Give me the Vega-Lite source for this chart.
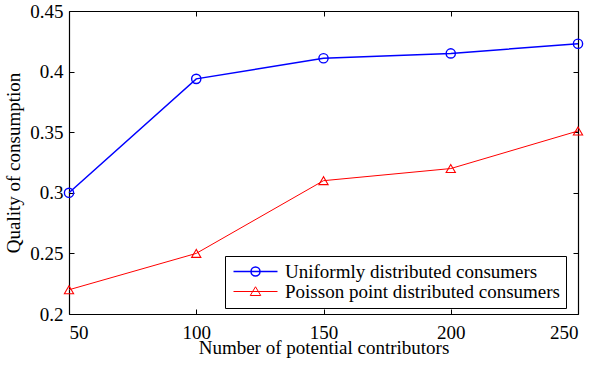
{
  "$schema": "https://vega.github.io/schema/vega-lite/v6.json",
  "width": 509,
  "height": 303,
  "autosize": {"type": "none"},
  "padding": {"left": 69, "top": 11, "right": 14, "bottom": 51},
  "background": "white",
  "config": {
    "view": {"stroke": null},
    "font": "Liberation Serif",
    "axis": {
      "domainColor": "black",
      "domainWidth": 1.2,
      "tickColor": "black",
      "tickSize": -5,
      "tickWidth": 1,
      "labelColor": "black",
      "titleColor": "black",
      "labelFont": "Liberation Serif",
      "titleFont": "Liberation Serif",
      "labelFontSize": 19,
      "titleFontSize": 19,
      "titleFontWeight": "normal",
      "grid": false
    },
    "legend": {
      "orient": "none",
      "legendX": 156,
      "legendY": 245,
      "fillColor": "white",
      "strokeColor": "black",
      "padding": 6,
      "labelFont": "Liberation Serif",
      "labelFontSize": 19,
      "labelColor": "black",
      "labelLimit": 500,
      "symbolOffset": 15,
      "labelOffset": 20,
      "rowPadding": 0,
      "symbolSize": 100,
      "symbolStrokeWidth": 1.3
    }
  },
  "datasets": {
    "d": [
      {"contributors": 50, "quality": 0.300, "series": "Uniformly distributed consumers"},
      {"contributors": 100, "quality": 0.394, "series": "Uniformly distributed consumers"},
      {"contributors": 150, "quality": 0.411, "series": "Uniformly distributed consumers"},
      {"contributors": 200, "quality": 0.415, "series": "Uniformly distributed consumers"},
      {"contributors": 250, "quality": 0.423, "series": "Uniformly distributed consumers"},
      {"contributors": 50, "quality": 0.220, "series": "Poisson point distributed consumers"},
      {"contributors": 100, "quality": 0.250, "series": "Poisson point distributed consumers"},
      {"contributors": 150, "quality": 0.310, "series": "Poisson point distributed consumers"},
      {"contributors": 200, "quality": 0.320, "series": "Poisson point distributed consumers"},
      {"contributors": 250, "quality": 0.351, "series": "Poisson point distributed consumers"}
    ]
  },
  "data": {"name": "d"},
  "resolve": {"axis": {"x": "independent", "y": "independent"}},
  "layer": [
    {
      "mark": {"type": "line"},
      "encoding": {
        "x": {"field": "contributors", "type": "quantitative", "scale": {"domain": [50, 250], "nice": false, "zero": false},
              "axis": {"values": [50, 100, 150, 200, 250], "title": "Number of potential contributors", "labelPadding": 14, "titleY": 39, "titleBaseline": "alphabetic"}},
        "y": {"field": "quality", "type": "quantitative", "scale": {"domain": [0.2, 0.45], "nice": false, "zero": false},
              "axis": {"values": [0.2, 0.25, 0.3, 0.35, 0.4, 0.45], "format": "~g", "title": "Quality of consumption", "labelPadding": 11, "titleX": -50, "titleBaseline": "alphabetic"}},
        "color": {"field": "series", "type": "nominal",
                  "scale": {"domain": ["Uniformly distributed consumers", "Poisson point distributed consumers"], "range": ["#0000ff", "#ff0000"]},
                  "legend": {"title": null,
                    "encode": {"symbols": {"update": {
                      "shape": {"signal": "datum.value === 'Uniformly distributed consumers' ? 'M-4.4,0H4.4M0.9,0A0.9,0.9,0,1,1,-0.9,0A0.9,0.9,0,1,1,0.9,0' : 'M-4.4,0H4.4M0,-0.95L1.05,0.8L-1.05,0.8Z'"},
                      "fill": {"value": "transparent"},
                      "strokeWidth": {"signal": "datum.value === 'Uniformly distributed consumers' ? 1.5 : 1"}
                    }}}}},
        "strokeWidth": {"field": "series", "type": "nominal",
                  "scale": {"domain": ["Uniformly distributed consumers", "Poisson point distributed consumers"], "range": [1.5, 1]}, "legend": null}
      }
    },
    {
      "transform": [{"filter": "datum.series === 'Uniformly distributed consumers'"}],
      "mark": {"type": "point", "shape": "circle", "filled": false, "size": 85, "strokeWidth": 1.4, "opacity": 1},
      "encoding": {
        "x": {"field": "contributors", "type": "quantitative",
              "axis": {"orient": "top", "values": [50, 100, 150, 200, 250], "labels": false, "title": null}},
        "y": {"field": "quality", "type": "quantitative",
              "axis": {"orient": "right", "values": [0.2, 0.25, 0.3, 0.35, 0.4, 0.45], "labels": false, "title": null}},
        "color": {"field": "series", "type": "nominal", "legend": null}
      }
    },
    {
      "transform": [{"filter": "datum.series === 'Poisson point distributed consumers'"}],
      "mark": {"type": "point", "shape": "triangle-up", "filled": false, "size": 85, "strokeWidth": 1.1, "opacity": 1},
      "encoding": {
        "x": {"field": "contributors", "type": "quantitative", "axis": null},
        "y": {"field": "quality", "type": "quantitative", "axis": null},
        "color": {"field": "series", "type": "nominal", "legend": null}
      }
    }
  ]
}
